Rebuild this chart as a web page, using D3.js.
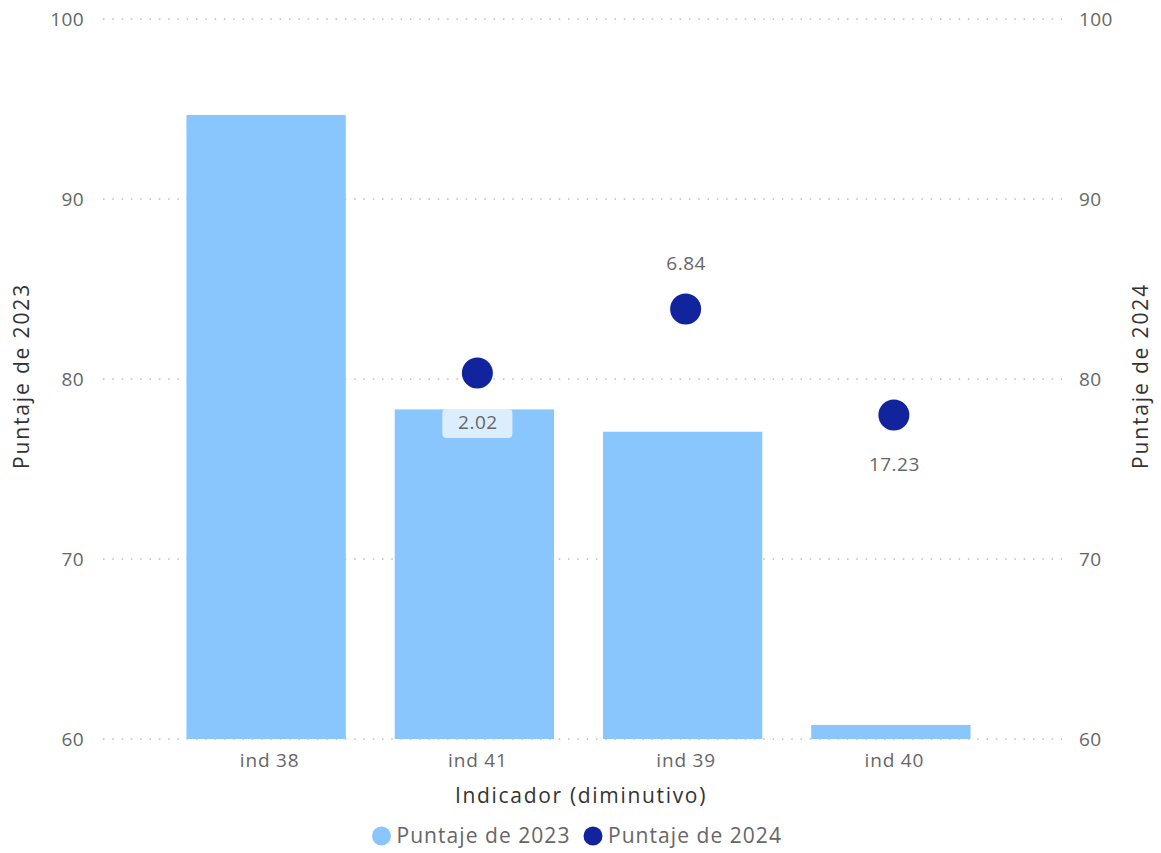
<!DOCTYPE html>
<html><head><meta charset="utf-8">
<script src="https://cdn.jsdelivr.net/npm/d3@7"></script>
<style>body{margin:0;background:#fff;} svg{display:block;} text{font-family:"Open Sans","Noto Sans",sans-serif;}</style>
</head><body>
<svg id="c" width="1161" height="853"></svg>
<script>
const categories = ["ind 38", "ind 41", "ind 39", "ind 40"];
const score2023 = [94.67, 78.31, 77.07, 60.78];
const score2024 = [null, 80.33, 83.89, 78.0];
const labels2024 = [null, "2.02", "6.84", "17.23"];
const labelPos = [null, "below", "above", "below"];
const yTicks = [60, 70, 80, 90, 100];
const seriesNames = ["Puntaje de 2023", "Puntaje de 2024"];

const svg = d3.select("#c");
const x = d3.scaleBand().domain(categories).range([162, 995]).paddingInner(0.235).paddingOuter(0.1175);
const yL = d3.scaleLinear().domain([60, 100]).range([739, 19]);
const yR = d3.scaleLinear().domain([60, 100]).range([739, 19]);

function fit(sel, target) {
  sel.each(function() {
    const n = this.textContent.length;
    const len = this.getComputedTextLength();
    d3.select(this).attr("letter-spacing", ((target - len) / n).toFixed(2) + "px");
  });
}

// gridlines
svg.append("g").selectAll("line").data(yTicks).join("line")
  .attr("x1", 103).attr("x2", 1062)
  .attr("y1", d => yL(d)).attr("y2", d => yL(d))
  .attr("stroke", "#bdbdbd").attr("stroke-width", 1.5).attr("stroke-dasharray", "1.5,7.8");

function styleAxis(g) {
  g.attr("font-family", null).attr("font-size", null);
  g.select(".domain").remove();
  g.selectAll("text").attr("fill", "#666").style("font-size", "19px");
}

// left axis
svg.append("g").attr("transform", "translate(84,0)")
  .call(d3.axisLeft(yL).tickValues(yTicks).tickSize(0).tickPadding(0))
  .call(styleAxis).selectAll("text").attr("dy", "0.35em").attr("letter-spacing", "0.4px");

// right axis
svg.append("g").attr("transform", "translate(1079,0)")
  .call(d3.axisRight(yR).tickValues(yTicks).tickSize(0).tickPadding(0))
  .call(styleAxis).selectAll("text").attr("dy", "0.35em").attr("letter-spacing", "0.4px");

// bars
svg.append("g").selectAll("rect").data(categories).join("rect")
  .attr("x", d => x(d)).attr("width", x.bandwidth())
  .attr("y", (d, i) => yL(score2023[i]))
  .attr("height", (d, i) => yL(60) - yL(score2023[i]))
  .attr("fill", "#8AC6FE");

// x axis labels
svg.append("g").attr("transform", "translate(3.5,739)")
  .call(d3.axisBottom(x).tickSize(0).tickPadding(0))
  .call(styleAxis).selectAll("text").attr("dy", null).attr("y", 28).attr("letter-spacing", "0.8px");

// dots + labels
const pts = categories.map((c, i) => ({c, v: score2024[i], l: labels2024[i], p: labelPos[i]})).filter(d => d.v != null);
const cx = d => x(d.c) + x.bandwidth() / 2 + 3;
svg.append("g").selectAll("circle").data(pts).join("circle")
  .attr("cx", cx).attr("cy", d => yR(d.v)).attr("r", 15.5).attr("fill", "#12239E");

const lg = svg.append("g").selectAll("g").data(pts).join("g");
lg.each(function(d) {
  const g = d3.select(this);
  const ly = d.p === "above" ? yR(d.v) - 46 : yR(d.v) + 49;
  if (d.c === "ind 41") {
    g.append("rect").attr("x", cx(d) - 35).attr("y", ly - 13).attr("width", 70).attr("height", 29)
      .attr("rx", 4).attr("fill", "#DCEEFE");
  }
  g.append("text").attr("x", cx(d) + 0.5).attr("y", ly).attr("dy", "0.35em")
    .attr("text-anchor", "middle").attr("fill", "#666").style("font-size", "19px")
    .attr("letter-spacing", "0.5px").text(d.l);
});

// axis titles
svg.append("text").attr("transform", "translate(29,376) rotate(-90)").attr("text-anchor", "middle")
  .attr("fill", "#333").style("font-size", "21px").text("Puntaje de 2023").call(fit, 186);
svg.append("text").attr("transform", "translate(1148,376) rotate(-90)").attr("text-anchor", "middle")
  .attr("fill", "#333").style("font-size", "21px").text("Puntaje de 2024").call(fit, 186);
svg.append("text").attr("x", 581).attr("y", 803).attr("text-anchor", "middle")
  .attr("fill", "#333").style("font-size", "21px").text("Indicador (diminutivo)").call(fit, 252);

// legend
const legendItems = [{name: seriesNames[0], color: "#8AC6FE", x: 381.5}, {name: seriesNames[1], color: "#12239E", x: 593}];
const leg = svg.append("g").selectAll("g").data(legendItems).join("g");
leg.append("circle").attr("cx", d => d.x).attr("cy", 836).attr("r", 9.5).attr("fill", d => d.color);
leg.append("text").attr("x", d => d.x + 15).attr("y", 843)
  .attr("fill", "#666").style("font-size", "21px").text(d => d.name).call(fit, 174);
</script>
</body></html>
